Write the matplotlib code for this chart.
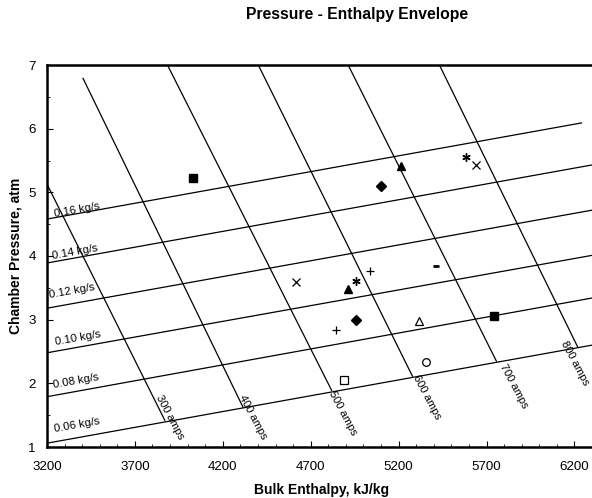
import numpy as np
import matplotlib.pyplot as plt

plt.rcParams['font.family'] = ['Liberation Sans', 'DejaVu Sans']

# =========================
# DATA
# =========================
# constant mass-flow lines: enthalpy end points and pressure at each end
flow_labels = ["0.06 kg/s", "0.08 kg/s", "0.10 kg/s", "0.12 kg/s", "0.14 kg/s", "0.16 kg/s"]
flow_h0 = [3200, 3200, 3200, 3200, 3200, 3200]
flow_p0 = [1.06, 1.79, 2.48, 3.18, 3.89, 4.58]
flow_h1 = [6300, 6300, 6300, 6300, 6300, 6240]
flow_p1 = [2.60, 3.34, 4.01, 4.72, 5.43, 6.09]
flow_lab_h = [3370, 3365, 3376, 3342, 3359, 3370]
flow_lab_p = [1.35, 2.04, 2.71, 3.45, 4.06, 4.72]

# constant current lines (top end -> bottom end on the 0.06 kg/s line)
amp_labels = ["300 amps", "400 amps", "500 amps", "600 amps", "700 amps", "800 amps"]
amp_h0 = [3189, 3405, 3876, 4393, 4904, 5432]
amp_p0 = [5.19, 6.79, 7.05, 7.05, 7.05, 7.00]
amp_h1 = [3870, 4314, 4819, 5279, 5756, 6217]
amp_p1 = [1.42, 1.63, 1.89, 2.11, 2.35, 2.58]
amp_lab_h = [3899, 4370, 4881, 5358, 5853, 6200]
amp_lab_p = [1.46, 1.47, 1.53, 1.78, 1.96, 2.31]

# measured operating points
sq_h, sq_p = [4031, 5742], [5.23, 3.05]
dia_h, dia_p = [5102, 4956], [5.10, 3.00]
tri_h, tri_p = [5215, 4912], [5.41, 3.48]
star_h, star_p = [5581, 4956], [5.56, 3.61]
x_h, x_p = [5641, 4619], [5.43, 3.59]
plus_h, plus_p = [5035, 4842], [3.77, 2.84]
dash_h, dash_p = [5414], [3.84]
otri_h, otri_p = [5315], [2.98]
circ_h, circ_p = [5357], [2.34]
osq_h, osq_p = [4888], [2.06]

# =========================
# PLOT
# =========================
fig = plt.figure(figsize=(5.92, 4.98), dpi=100)
ax = fig.add_axes([47/592, 1-447/498, 1-47/592, (447-65)/498])

for h0, p0, h1, p1 in zip(flow_h0, flow_p0, flow_h1, flow_p1):
    ax.plot([h0, h1], [p0, p1], color='black', lw=0.9)
for lab, h, p in zip(flow_labels, flow_lab_h, flow_lab_p):
    ax.text(h, p, lab, fontsize=8.2, rotation=10, ha='center', va='center',
            rotation_mode='anchor')

for h0, p0, h1, p1 in zip(amp_h0, amp_p0, amp_h1, amp_p1):
    ax.plot([h0, h1], [p0, p1], color='black', lw=0.9)
for lab, h, p in zip(amp_labels, amp_lab_h, amp_lab_p):
    ax.text(h, p, lab, fontsize=8.0, rotation=-62, ha='center', va='center',
            rotation_mode='anchor')

ms = 6
ax.plot(sq_h, sq_p, 's', color='black', ms=ms, ls='none')
ax.plot(dia_h, dia_p, 'D', color='black', ms=5, ls='none')
ax.plot(tri_h, tri_p, '^', color='black', ms=ms, ls='none')
ax.plot(star_h, star_p, marker=(6, 2, 0), color='black', ms=ms, mew=1.0, ls='none')
ax.plot(x_h, x_p, 'x', color='black', ms=ms, mew=0.9, ls='none')
ax.plot(plus_h, plus_p, '+', color='black', ms=ms, mew=0.9, ls='none')
ax.plot(dash_h, dash_p, '_', color='black', ms=4, mew=2, ls='none')
ax.plot(otri_h, otri_p, '^', mfc='white', mec='black', ms=ms, mew=0.9, ls='none')
ax.plot(circ_h, circ_p, 'o', mfc='white', mec='black', ms=5.5, mew=0.9, ls='none')
ax.plot(osq_h, osq_p, 's', mfc='white', mec='black', ms=5.5, mew=0.9, ls='none')

ax.set_xlim(3200, 6300)
ax.set_ylim(1, 7)
ax.set_xticks([3200, 3700, 4200, 4700, 5200, 5700, 6200])
ax.set_xticks(np.arange(3300, 6300, 100), minor=True)
ax.set_yticks([1, 2, 3, 4, 5, 6, 7])
ax.set_yticks(np.arange(1.5, 7, 1.0), minor=True)
ax.tick_params(axis='both', which='major', direction='in', length=4, width=0.8, labelsize=9.6)
ax.tick_params(axis='both', which='minor', direction='in', length=2.5, width=0.6)
ax.tick_params(axis='x', pad=10)
ax.tick_params(axis='y', pad=8)

for side in ['left', 'bottom', 'top']:
    ax.spines[side].set_linewidth(1.8)
ax.spines['right'].set_visible(False)

fig.text(357/592, 1-14/498, "Pressure - Enthalpy Envelope", ha='center', va='center',
         fontsize=11.3, fontweight='bold')
fig.text(16/592, 1-256/498, "Chamber Pressure, atm", ha='center', va='center',
         rotation=90, fontsize=10, fontweight='bold')
fig.text(322/592, 1-490/498, "Bulk Enthalpy, kJ/kg", ha='center', va='center',
         fontsize=10, fontweight='bold')

fig.savefig("out.png", dpi=100)
